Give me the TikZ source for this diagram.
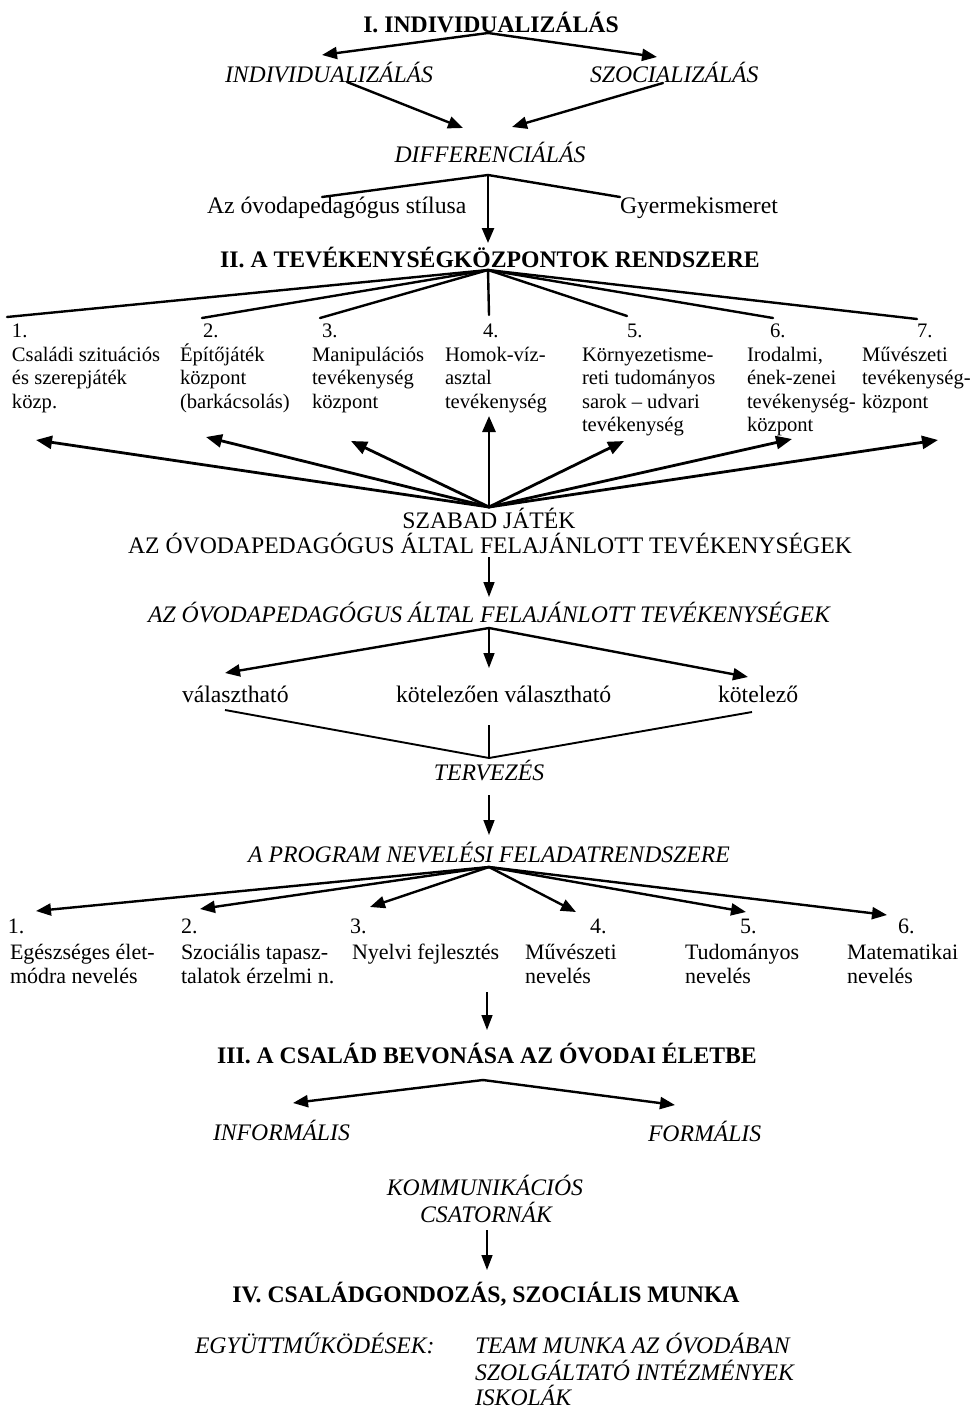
\documentclass[tikz,border=0pt]{standalone}
\usepackage{fontspec}
\setmainfont{Liberation Serif}
\usetikzlibrary{arrows.meta}
\newcommand\bigtxt{\fontsize{23.7pt}{28pt}\selectfont}
\newcommand\coltxt{\fontsize{20.6pt}{23.6pt}\selectfont}
\newcommand\lowtxt{\fontsize{22pt}{24.5pt}\selectfont}
\newcommand\colbox[1]{\begin{tabular}[t]{@{}l@{}}#1\end{tabular}}
\begin{document}
\begin{tikzpicture}[x=1pt,y=-1pt,
  txt/.style={inner sep=0pt,outer sep=0pt,font=\bigtxt},
  bf/.style={inner sep=0pt,outer sep=0pt,font=\bigtxt\bfseries},
  it/.style={inner sep=0pt,outer sep=0pt,font=\bigtxt\itshape},
  col/.style={inner sep=0pt,outer sep=0pt,font=\coltxt,anchor=base west},
  low/.style={inner sep=0pt,outer sep=0pt,font=\lowtxt,anchor=base west},
  ln/.style={line width=2.4pt,line cap=round,line join=round},
  arr/.style={line width=2.4pt,line cap=round,-{Triangle[length=15pt,width=12pt]}},
  fat/.style={line width=2.8pt,line cap=round,-{Triangle[length=16pt,width=13pt]}},
  thinln/.style={line width=1.4pt},
  thinarr/.style={line width=1.4pt,-{Triangle[length=15pt,width=11pt]}}
]
\useasboundingbox[fill=white] (0,0) rectangle (973,1408);

% ---------- I ----------
\node[bf,anchor=base] (t1) at (491,32) {I. INDIVIDUALIZÁLÁS};
\node[it,anchor=base west] (ind) at (225,82) {INDIVIDUALIZÁLÁS};
\node[it,anchor=base west] (szoc) at (590,82) {SZOCIALIZÁLÁS};
\node[it,anchor=base] (diff) at (490,162) {DIFFERENCIÁLÁS};
\node[txt,anchor=base west] (stil) at (207,213) {Az óvodapedagógus stílusa};
\node[txt,anchor=base west] (gyer) at (620,213) {Gyermekismeret};

\coordinate (j1) at (488,33);
\coordinate (a1) at (322,55);
\coordinate (a2) at (657,57);
\draw[arr] (j1) -- (a1);
\draw[arr] (j1) -- (a2);
\coordinate (b1) at (347,82);
\coordinate (b1t) at (463,128);
\coordinate (b2) at (663,83);
\coordinate (b2t) at (512,127);
\draw[arr] (b1) -- (b1t);
\draw[arr] (b2) -- (b2t);
\coordinate (j2) at (488,175);
\coordinate (c1) at (322,197);
\coordinate (c2) at (620,197);
\coordinate (c3) at (488,243);
\draw[ln] (c1) -- (j2) -- (c2);
\draw[arr] (j2) -- (c3);

% ---------- II ----------
\node[bf,anchor=base] (t2) at (490,267) {II. A TEVÉKENYSÉGKÖZPONTOK RENDSZERE};

\node[col] (n1) at (12,337) {1.};
\node[col] (n2) at (203,337) {2.};
\node[col] (n3) at (322,337) {3.};
\node[col] (n4) at (483,337) {4.};
\node[col] (n5) at (627,337) {5.};
\node[col] (n6) at (770,337) {6.};
\node[col] (n7) at (917,337) {7.};
\node[col] (k1) at (12,361) {\colbox{Családi szituációs\\és szerepjáték\\közp.}};
\node[col] (k2) at (180,361) {\colbox{Építőjáték\\központ\\(barkácsolás)}};
\node[col] (k3) at (312,361) {\colbox{Manipulációs\\tevékenység\\központ}};
\node[col] (k4) at (445,361) {\colbox{Homok-víz-\\asztal\\tevékenység}};
\node[col] (k5) at (582,361) {\colbox{Környezetisme-\\reti tudományos\\sarok -- udvari\\tevékenység}};
\node[col] (k6) at (747,361) {\colbox{Irodalmi,\\ének-zenei\\tevékenység-\\központ}};
\node[col] (k7) at (862,361) {\colbox{Művészeti\\tevékenység-\\központ}};

\coordinate (j3) at (488,270);
\coordinate (d1) at (7,317);
\coordinate (d2) at (202,318);
\coordinate (d3) at (320,318);
\coordinate (d4) at (489,315);
\coordinate (d5) at (627,316);
\coordinate (d6) at (773,318);
\coordinate (d7) at (917,319);
\foreach \e in {d1,d2,d3,d4,d5,d6,d7} \draw[ln] (j3) -- (\e);

\node[txt,anchor=base] (szab) at (489,528) {SZABAD JÁTÉK};
\node[txt,anchor=base] (felaj) at (490,553) {AZ ÓVODAPEDAGÓGUS ÁLTAL FELAJÁNLOTT TEVÉKENYSÉGEK};

\coordinate (j4) at (489,507);
\coordinate (e1) at (36,440);
\coordinate (e2) at (206,437);
\coordinate (e3) at (351,441);
\coordinate (e4) at (489,416);
\coordinate (e5) at (624,441);
\coordinate (e6) at (792,439);
\coordinate (e7) at (938,440);
\foreach \e in {e1,e2,e3,e4,e5,e6,e7} \draw[fat] (j4) -- (\e);

\coordinate (f0) at (489,557);
\coordinate (f1) at (489,597);
\draw[thinarr] (f0) -- (f1);

\node[it,anchor=base] (felaji) at (489,622) {AZ ÓVODAPEDAGÓGUS ÁLTAL FELAJÁNLOTT TEVÉKENYSÉGEK};

\coordinate (j5) at (489,628);
\coordinate (g1) at (225,673);
\coordinate (g2) at (489,668);
\coordinate (g3) at (748,677);
\draw[arr] (j5) -- (g1);
\draw[thinarr] (j5) -- (g2);
\draw[arr] (j5) -- (g3);

\node[txt,anchor=base west] (valt) at (182,702) {választható};
\node[txt,anchor=base west] (kval) at (396,702) {kötelezően választható};
\node[txt,anchor=base west] (kot) at (718,702) {kötelező};

\coordinate (h1) at (225,710);
\coordinate (h2) at (752,712);
\coordinate (h3) at (489,725);
\coordinate (j6) at (489,758);
\draw[line width=1.9pt,line join=round] (h1) -- (j6) -- (h2);
\draw[thinln] (h3) -- (j6);

\node[it,anchor=base] (terv) at (489,780) {TERVEZÉS};
\coordinate (i0) at (489,795);
\coordinate (i1) at (489,835);
\draw[thinarr] (i0) -- (i1);

\node[it,anchor=base] (prog) at (489,862) {A PROGRAM NEVELÉSI FELADATRENDSZERE};

\coordinate (j7) at (489,867);
\coordinate (m1) at (36,911);
\coordinate (m2) at (200,909);
\coordinate (m3) at (370,907);
\coordinate (m4) at (576,912);
\coordinate (m5) at (746,912);
\coordinate (m6) at (887,915);
\foreach \e in {m1,m2,m3,m4,m5,m6} \draw[arr] (j7) -- (\e);

\node[low] (p1) at (8,933) {1.};
\node[low] (p2) at (181,933) {2.};
\node[low] (p3) at (350,933) {3.};
\node[low] (p4) at (590,933) {4.};
\node[low] (p5) at (740,933) {5.};
\node[low] (p6) at (898,933) {6.};
\node[low] (q1) at (10,959) {\colbox{Egészséges élet-\\módra nevelés}};
\node[low] (q2) at (181,959) {\colbox{Szociális tapasz-\\talatok érzelmi n.}};
\node[low] (q3) at (352,959) {Nyelvi fejlesztés};
\node[low] (q4) at (525,959) {\colbox{Művészeti\\nevelés}};
\node[low] (q5) at (685,959) {\colbox{Tudományos\\nevelés}};
\node[low] (q6) at (847,959) {\colbox{Matematikai\\nevelés}};

\coordinate (r0) at (487,992);
\coordinate (r1) at (487,1030);
\draw[thinarr] (r0) -- (r1);

% ---------- III ----------
\node[bf,anchor=base] (t3) at (487,1063) {III. A CSALÁD BEVONÁSA AZ ÓVODAI ÉLETBE};
\coordinate (j8) at (483,1080);
\coordinate (s1) at (293,1103);
\coordinate (s2) at (675,1105);
\draw[arr] (j8) -- (s1);
\draw[arr] (j8) -- (s2);
\node[it,anchor=base west] (inf) at (213,1140) {INFORMÁLIS};
\node[it,anchor=base west] (form) at (648,1141) {FORMÁLIS};
\node[it,anchor=base] (komm) at (485,1195) {KOMMUNIKÁCIÓS};
\node[it,anchor=base] (csat) at (486,1222) {CSATORNÁK};
\coordinate (u0) at (487,1230);
\coordinate (u1) at (487,1270);
\draw[thinarr] (u0) -- (u1);

% ---------- IV ----------
\node[bf,anchor=base] (t4) at (486,1302) {IV. CSALÁDGONDOZÁS, SZOCIÁLIS MUNKA};
\node[it,anchor=base west] (egy) at (195,1353) {EGYÜTTMŰKÖDÉSEK:};
\node[it,anchor=base west] (team) at (475,1353) {TEAM MUNKA AZ ÓVODÁBAN};
\node[it,anchor=base west] (szolg) at (475,1380) {SZOLGÁLTATÓ INTÉZMÉNYEK};
\node[it,anchor=base west] (isk) at (475,1405) {ISKOLÁK};
\end{tikzpicture}
\end{document}
